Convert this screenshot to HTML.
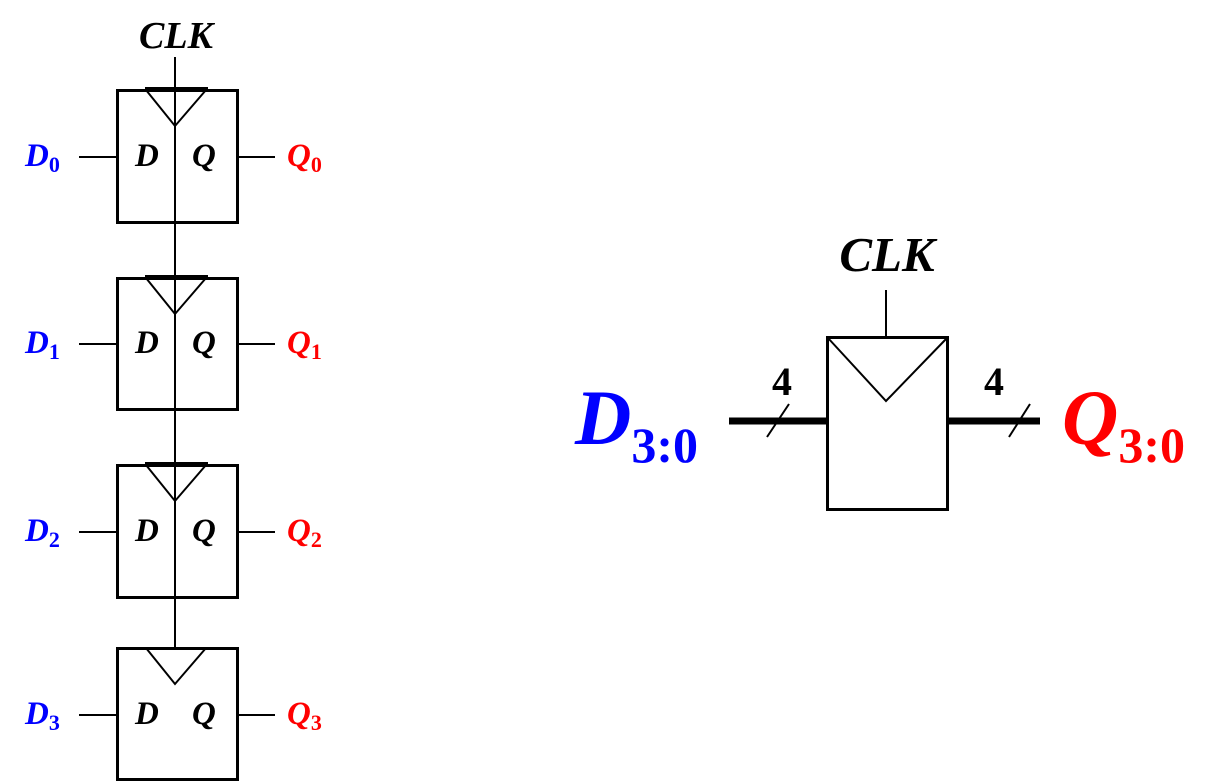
<!DOCTYPE html>
<html><head><meta charset="utf-8"><style>html,body{margin:0;padding:0;background:#fff}svg{display:block}</style></head>
<body>
<svg width="1221" height="782" viewBox="0 0 1221 782" xmlns="http://www.w3.org/2000/svg" font-family="Liberation Serif, serif" font-weight="bold" font-style="italic">
<text x="176" y="48" font-size="38" text-anchor="middle">CLK</text>
<line x1="175" y1="57" x2="175" y2="648" stroke="#000" stroke-width="2"/>
<g stroke="#000" fill="none">
<rect x="117.5" y="90.5" width="120" height="132" stroke-width="3"/>
<rect x="117.5" y="278.5" width="120" height="131" stroke-width="3"/>
<rect x="117.5" y="465.5" width="120" height="132" stroke-width="3"/>
<rect x="117.5" y="648.5" width="120" height="131" stroke-width="3"/>
<polyline points="146,90 175,126 206,90" stroke-width="2"/>
<polyline points="146,278 175,314 206,278" stroke-width="2"/>
<polyline points="146,465 175,501 206,465" stroke-width="2"/>
<polyline points="146,648 175,684 206,648" stroke-width="2"/>
<line x1="145" y1="89" x2="208" y2="89" stroke-width="4"/>
<line x1="145" y1="277" x2="208" y2="277" stroke-width="4"/>
<line x1="145" y1="464" x2="208" y2="464" stroke-width="4"/>
<g stroke-width="2">
<line x1="79" y1="157" x2="117" y2="157"/><line x1="238" y1="157" x2="275" y2="157"/>
<line x1="79" y1="344" x2="117" y2="344"/><line x1="238" y1="344" x2="275" y2="344"/>
<line x1="79" y1="532" x2="117" y2="532"/><line x1="238" y1="532" x2="275" y2="532"/>
<line x1="79" y1="715" x2="117" y2="715"/><line x1="238" y1="715" x2="275" y2="715"/>
</g>
</g>
<g font-size="33">
<text x="135" y="166">D</text><text x="192" y="166">Q</text>
<text x="135" y="353">D</text><text x="192" y="353">Q</text>
<text x="135" y="541">D</text><text x="192" y="541">Q</text>
<text x="135" y="724">D</text><text x="192" y="724">Q</text>
<g fill="#0000ff">
<text x="25" y="166">D<tspan font-style="normal" font-size="22" dy="6">0</tspan></text>
<text x="25" y="353">D<tspan font-style="normal" font-size="22" dy="6">1</tspan></text>
<text x="25" y="541">D<tspan font-style="normal" font-size="22" dy="6">2</tspan></text>
<text x="25" y="724">D<tspan font-style="normal" font-size="22" dy="6">3</tspan></text>
</g>
<g fill="#ff0000">
<text x="287" y="166">Q<tspan font-style="normal" font-size="22" dy="6">0</tspan></text>
<text x="287" y="353">Q<tspan font-style="normal" font-size="22" dy="6">1</tspan></text>
<text x="287" y="541">Q<tspan font-style="normal" font-size="22" dy="6">2</tspan></text>
<text x="287" y="724">Q<tspan font-style="normal" font-size="22" dy="6">3</tspan></text>
</g>
</g>
<text x="887" y="271" font-size="49" text-anchor="middle">CLK</text>
<line x1="886" y1="290" x2="886" y2="337" stroke="#000" stroke-width="2"/>
<rect x="827.5" y="337.5" width="120" height="172" fill="none" stroke="#000" stroke-width="3"/>
<polyline points="828,338 886,401 947,338" fill="none" stroke="#000" stroke-width="2"/>
<line x1="729" y1="421" x2="827" y2="421" stroke="#000" stroke-width="7"/>
<line x1="948" y1="421" x2="1040" y2="421" stroke="#000" stroke-width="7"/>
<line x1="767" y1="437" x2="789" y2="404" stroke="#000" stroke-width="2"/>
<line x1="1009" y1="437" x2="1030" y2="404" stroke="#000" stroke-width="2"/>
<text x="782" y="395" font-size="40" font-style="normal" text-anchor="middle">4</text>
<text x="994" y="395" font-size="40" font-style="normal" text-anchor="middle">4</text>
<text x="575" y="444" font-size="78" fill="#0000ff">D<tspan font-style="normal" font-size="50" dy="18">3:0</tspan></text>
<text x="1062" y="444" font-size="78" fill="#ff0000">Q<tspan font-style="normal" font-size="50" dy="18">3:0</tspan></text>
</svg>
</body></html>
